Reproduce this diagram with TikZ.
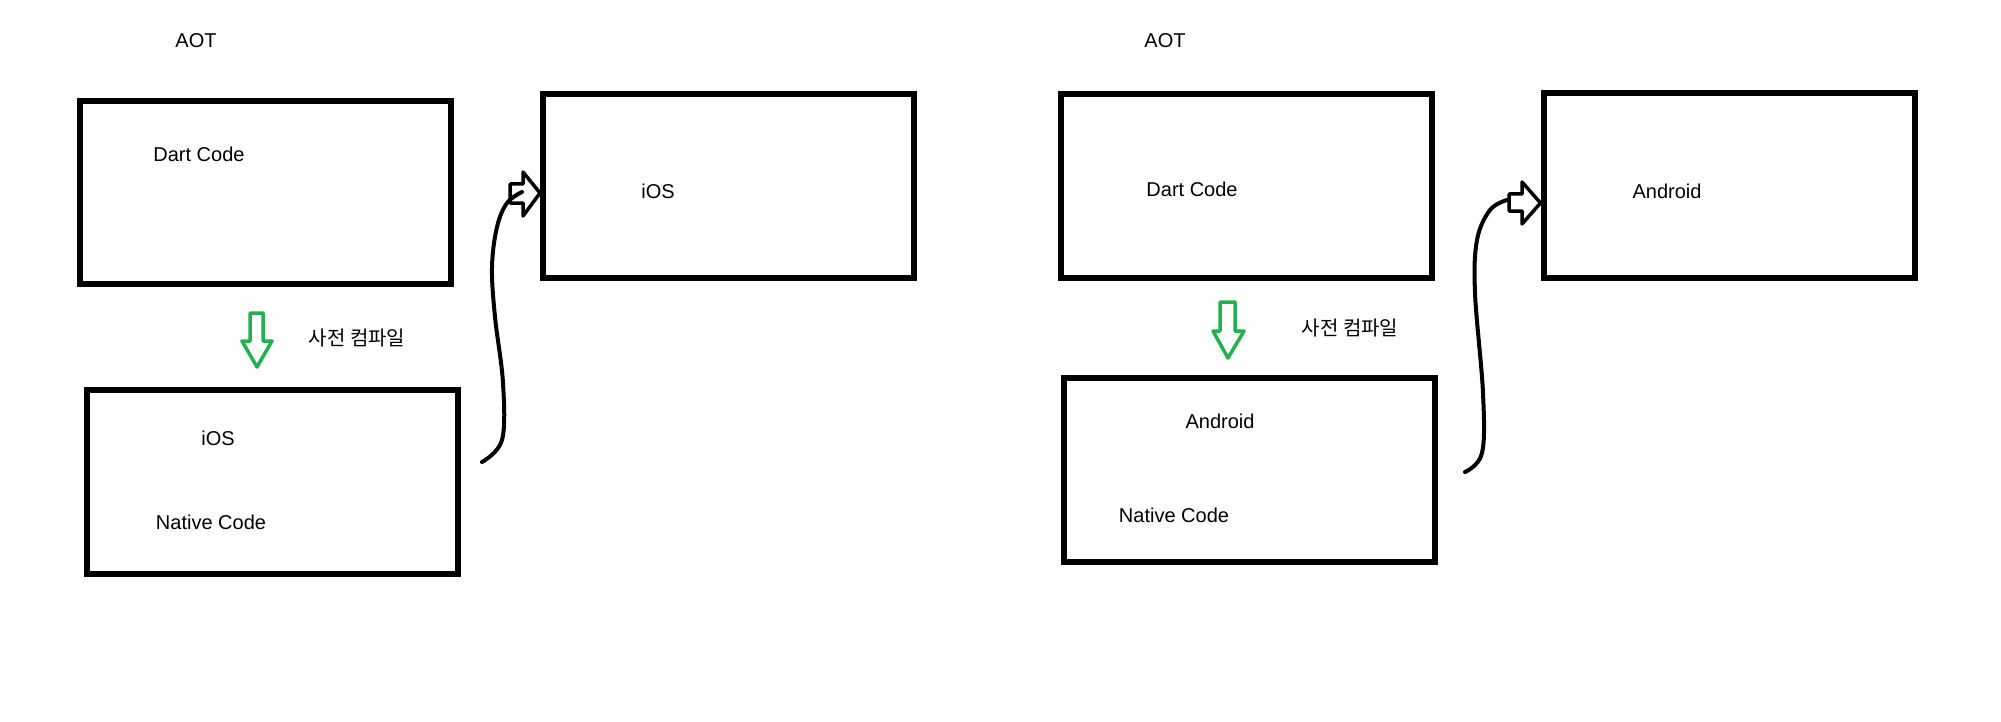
\documentclass[tikz,border=0pt]{standalone}
\usepackage{fontspec}
\setmainfont{Liberation Sans}
\newfontfamily\kr{Noto Sans CJK KR}
\definecolor{paintgreen}{RGB}{34,177,76}
\begin{document}
\begin{tikzpicture}[x=1pt,y=-1pt,
  box/.style={draw=black,line width=6pt,minimum width=371pt,minimum height=184pt,inner sep=0pt},
  lbl/.style={font=\fontsize{20}{24}\selectfont,inner sep=0pt},
  klbl/.style={font=\kr\fontsize{20}{24}\selectfont,inner sep=0pt},
  garrow/.style={draw=paintgreen,line width=3.5pt,line join=round,fill=white},
  barrow/.style={draw=black,line width=3.5pt,line join=round},
  curve/.style={draw=black,line width=4pt,line cap=round}]
\useasboundingbox[fill=white] (0,0) rectangle (2001,722);
% left group
\node[lbl] (aot1) at (196,41) {AOT};
\node[box,minimum height=183pt] (dart1) at (265.5,192.5) {};
\node[box] (ios1) at (728.5,186) {};
\node[box] (nat1) at (272.5,482) {};
\node[lbl] (dt1) at (199,154) {Dart Code};
\node[lbl] (it1) at (658,191) {iOS};
\node[klbl] (k1) at (357,338) {사전 컴파일};
\node[lbl] (in1) at (218,438) {iOS};
\node[lbl] (nc1) at (211,522) {Native Code};
\draw[garrow] (250,313) -- (263,313) -- (263,341) -- (272,341) -- (257,367) -- (242,341) -- (250,341) -- cycle;
\coordinate (s1) at (482,462);
\draw[barrow] (510,184) -- (523,184) -- (523,172) -- (ios1.west|-0,193) -- (523,216) -- (523,203) -- (510,203) -- cycle;
\draw[curve] plot[smooth,tension=0.6] coordinates {(s1) (502,440) (503,383) (495,317) (492,267) (497,227) (507,203) (522,192)};
% right group
\node[lbl] (aot2) at (1165,41) {AOT};
\node[box] (dart2) at (1246,186) {};
\node[box] (and2) at (1729,185.5) {};
\node[box] (nat2) at (1249,469.5) {};
\node[lbl] (dt2) at (1192,189) {Dart Code};
\node[lbl] (at2) at (1667,191) {Android};
\node[klbl] (k2) at (1350,328) {사전 컴파일};
\node[lbl] (an2) at (1220,421) {Android};
\node[lbl] (nc2) at (1174,515) {Native Code};
\draw[garrow] (1220,302) -- (1235,302) -- (1235,331) -- (1244,331) -- (1228,358) -- (1213,331) -- (1220,331) -- cycle;
\coordinate (s2) at (1465,472);
\draw[barrow] (1509,194) -- (1522,194) -- (1522,182) -- (and2.west|-0,203) -- (1522,224) -- (1522,211) -- (1509,211) -- cycle;
\draw[curve] plot[smooth,tension=0.6] coordinates {(s2) (1482,453) (1483,393) (1475,293) (1477,240) (1490,210) (1507,200)};
\end{tikzpicture}
\end{document}
